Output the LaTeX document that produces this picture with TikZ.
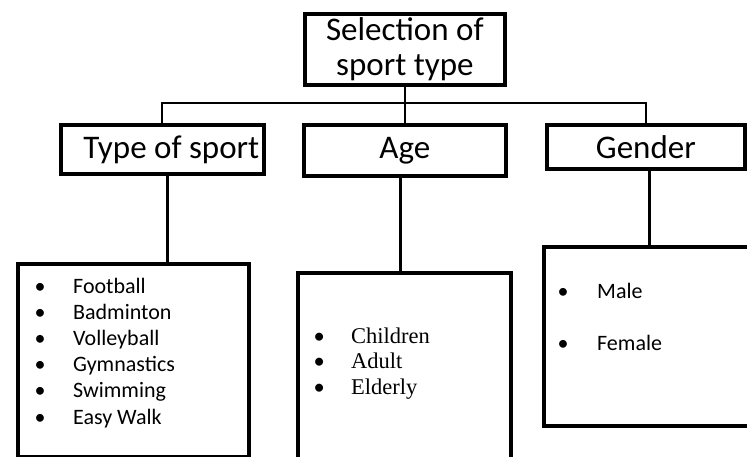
\documentclass[tikz,border=0pt]{standalone}
\usepackage{fontspec}
\setmainfont{Carlito}
\newfontfamily\serifl{Liberation Serif}
\newfontfamily\bulfont{Carlito}
\newcommand{\bulitem}[1]{\makebox[0pt][c]{\bulfont•}\hspace{#1}}
\begin{document}
\begin{tikzpicture}[x=1pt,y=-1pt,
  box/.style={draw=black,line width=3.7pt,rectangle,inner sep=0pt,anchor=north west},
  head/.style={font=\fontsize{33}{35}\selectfont,align=center},
  conn/.style={draw=black,line width=2pt},
  connb/.style={draw=black,line width=3.2pt},
  listtxt/.style={anchor=base west,inner sep=0pt}]
\clip (0,0) rectangle (747,457);
\fill[white] (0,0) rectangle (747,457);
% boxes
\node[box,minimum width=200pt,minimum height=71pt,head] (top) at (303,12) {Selection of\\sport type};
\node[box,minimum width=203pt,minimum height=49pt,head] (tsp) at (59,123) {\hspace*{18pt}Type of sport};
\node[box,minimum width=202pt,minimum height=51pt,head] (age) at (302,123) {Age};
\node[box,minimum width=198pt,minimum height=44pt,head] (gen) at (545,123) {Gender};
\node[box,minimum width=231pt,minimum height=193pt] (tl) at (16,262) {};
\node[box,minimum width=213pt,minimum height=220pt] (al) at (296,271) {};
\node[box,minimum width=230pt,minimum height=179pt] (gl) at (542,245) {};
% lists
\node[listtxt,font=\fontsize{22}{26.2}\selectfont] (tlt) at (40,293)
 {\begin{tabular}[t]{@{}l@{}}
  \bulitem{33pt}Football\\
  \bulitem{33pt}Badminton\\
  \bulitem{33pt}Volleyball\\
  \bulitem{33pt}Gymnastics\\
  \bulitem{33pt}Swimming\\
  \bulitem{33pt}Easy Walk
  \end{tabular}};
\node[listtxt,font=\serifl\fontsize{22.5}{25.5}\selectfont] (alt) at (319,343)
 {\begin{tabular}[t]{@{}l@{}}
  \bulitem{32pt}Children\\
  \bulitem{32pt}Adult\\
  \bulitem{32pt}Elderly
  \end{tabular}};
\node[listtxt,font=\fontsize{22}{52}\selectfont] (glt) at (563,298)
 {\begin{tabular}[t]{@{}l@{}}
  \bulitem{34pt}Male\\
  \bulitem{34pt}Female
  \end{tabular}};
% connectors
\coordinate (bus) at (403,103);
\draw[conn] (top.south) -- (age.north);
\draw[conn] (tsp.north) -- (tsp.north |- bus) -- (gen.north |- bus) -- (gen.north);
\draw[connb] ([xshift=5.5pt]tsp.south) -- ([xshift=5.5pt]tsp.south |- tl.north);
\draw[connb] ([xshift=-4pt]age.south) -- ([xshift=-4pt]age.south |- al.north);
\draw[connb] ([xshift=4pt]gen.south) -- ([xshift=4pt]gen.south |- gl.north);
\end{tikzpicture}
\end{document}
